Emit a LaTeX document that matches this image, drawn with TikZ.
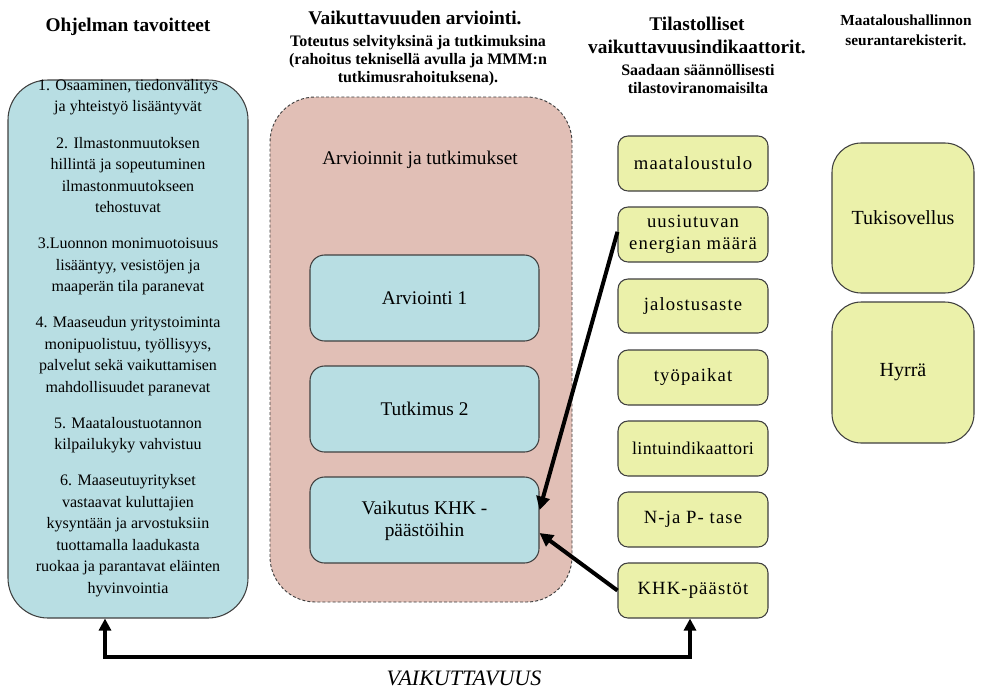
\documentclass[tikz,border=0pt]{standalone}
\usepackage{fontspec}
\setmainfont{LiberationSerif}[Extension=.ttf, UprightFont=*-Regular, BoldFont=*-Bold, ItalicFont=*-Italic, BoldItalicFont=*-BoldItalic]
\newfontfamily\spacedserif{LiberationSerif}[Extension=.ttf, UprightFont=*-Regular, BoldFont=*-Bold, LetterSpace=6]
\newfontfamily\lightspaced{LiberationSerif}[Extension=.ttf, UprightFont=*-Regular, BoldFont=*-Bold, LetterSpace=2]
\usetikzlibrary{arrows.meta,fit,calc}
\definecolor{goalblue}{RGB}{184,222,227}
\definecolor{evalpink}{RGB}{225,191,182}
\definecolor{indyellow}{RGB}{235,241,170}
\definecolor{edgegrey}{RGB}{64,64,64}
\tikzset{
  titlefont/.style={font=\fontsize{14.5}{17.25}\selectfont\bfseries, align=center, inner sep=0pt},
  subfont/.style={font=\fontsize{12}{13.5}\selectfont\bfseries, align=center, inner sep=0pt},
  goalbox/.style={draw=edgegrey, line width=0.8pt, fill=goalblue, rounded corners=30pt, inner sep=0pt},
  evalbox/.style={draw=edgegrey, line width=0.7pt, dash pattern=on 2.2pt off 1.6pt, fill=evalpink, rounded corners=34pt, inner sep=0pt},
  studybox/.style={draw=edgegrey, line width=0.8pt, fill=goalblue, rounded corners=11pt, inner sep=0pt},
  studytext/.style={font=\fontsize{14.5}{16.5}\selectfont, align=center, inner sep=0pt},
  indbox/.style={draw=edgegrey, line width=0.8pt, fill=indyellow, rounded corners=7.5pt, inner sep=0pt},
  indtext/.style={font=\spacedserif\fontsize{14}{16.5}\selectfont, align=center, inner sep=0pt},
  regbox/.style={draw=edgegrey, line width=0.8pt, fill=indyellow, rounded corners=22pt, inner sep=0pt},
  regtext/.style={font=\fontsize{15}{18}\selectfont, inner sep=0pt},
  bigarrow/.style={line width=3pt, -{Triangle[length=10pt,width=10pt]}},
  bracketarrow/.style={line width=3.3pt, {Triangle[length=9pt,width=9pt]}-{Triangle[length=9pt,width=9pt]}}
}
\begin{document}
\begin{tikzpicture}[x=0.75pt,y=-0.75pt]
\useasboundingbox (0,0) rectangle (981,689);
\fill[white] (0,0) rectangle (981,689);

% column titles
\node[titlefont] (t1) at (128,27) {Ohjelman tavoitteet};
\node[titlefont] (t2) at (415,18) {Vaikuttavuuden arviointi.};
\node[subfont] (t2s) at (418,61) {Toteutus selvityksinä ja tutkimuksina\\(rahoitus teknisellä avulla ja MMM:n\\tutkimusrahoituksena).};
\node[titlefont] (t3) at (697,35.5) {Tilastolliset\\vaikuttavuusindikaattorit.};
\node[subfont] (t3s) at (698,79) {Saadaan säännöllisesti\\tilastoviranomaisilta};
\node[font=\fontsize{11.5}{15}\selectfont\bfseries, align=center, inner sep=0pt] (t4) at (906,30) {Maataloushallinnon\\seurantarekisterit.};

% left goals box
\node[goalbox, fit={(8,80) (248,618)}] (L) {};
\node[font=\fontsize{12}{16.1}\selectfont, align=center, inner sep=0pt] (Ltext) at (128,338)
 {1. Osaaminen, tiedonvälitys\\ja yhteistyö lisääntyvät\\[11pt]
  2. Ilmastonmuutoksen\\hillintä ja sopeutuminen\\ilmastonmuutokseen\\tehostuvat\\[11pt]
  3.Luonnon monimuotoisuus\\lisääntyy, vesistöjen ja\\maaperän tila paranevat\\[11pt]
  4. Maaseudun yritystoiminta\\monipuolistuu, työllisyys,\\palvelut sekä vaikuttamisen\\mahdollisuudet paranevat\\[11pt]
  5. Maataloustuotannon\\kilpailukyky vahvistuu\\[11pt]
  6. Maaseutuyritykset\\vastaavat kuluttajien\\kysyntään ja arvostuksiin\\tuottamalla laadukasta\\ruokaa ja parantavat eläinten\\hyvinvointia};

% middle evaluation box
\node[evalbox, fit={(270,97) (572,602)}] (P) {};
\node[studytext] (Ptitle) at (420,160) {Arvioinnit ja tutkimukset};
\node[studybox, fit={(310,255) (539,341)}] (A1) {};
\node[studytext] (A1t) at (A1.center) {Arviointi 1};
\node[studybox, fit={(310,366) (539,452)}] (T2) {};
\node[studytext] (T2t) at (T2.center) {Tutkimus 2};
\node[studybox, fit={(310,477) (539,563)}] (V) {};
\node[studytext] (Vt) at ([yshift=-1pt]V.center) {Vaikutus KHK -\\päästöihin};

% indicator boxes
\node[indbox, fit={(618,136) (768,191)}] (I1) {};
\node[indtext] (I1t) at (I1.center) {maataloustulo};
\node[indbox, fit={(618,207) (768,262)}] (I2) {};
\node[indtext] (I2t) at (I2.center) {uusiutuvan\\energian määrä};
\node[indbox, fit={(618,279) (768,333)}] (I3) {};
\node[indtext] (I3t) at (I3.center) {jalostusaste};
\node[indbox, fit={(618,350) (768,405)}] (I4) {};
\node[indtext] (I4t) at (I4.center) {työpaikat};
\node[indbox, fit={(618,421) (768,476)}] (I5) {};
\node[font=\lightspaced\fontsize{13.5}{16.5}\selectfont, inner sep=0pt] (I5t) at (I5.center) {lintuindikaattori};
\node[indbox, fit={(618,492) (768,547)}] (I6) {};
\node[indtext] (I6t) at (I6.center) {N-ja P- tase};
\node[indbox, fit={(618,563) (768,618)}] (I7) {};
\node[indtext] (I7t) at (I7.center) {KHK-päästöt};

% registers
\node[regbox, fit={(832,143) (974,293)}] (R1) {};
\node[regtext] (R1t) at (R1.center) {Tukisovellus};
\node[regbox, fit={(832,302) (974,443)}] (R2) {};
\node[regtext] (R2t) at (R2.center) {Hyrrä};

% arrows
\draw[bigarrow] ([yshift=2pt]I2.west) -- ([yshift=7.5pt]V.east);
\draw[bigarrow] (I7.west) -- ([yshift=-9.75pt]V.east);
\coordinate (b1) at (105,657);
\coordinate (b2) at (690,657);
\draw[bracketarrow] (L.south -| b1) -- (b1) -- (b2) -- (I7.south -| b2);
\node[font=\fontsize{16.5}{18}\selectfont\itshape, inner sep=0pt] (vk) at (464,678) {VAIKUTTAVUUS};
\end{tikzpicture}
\end{document}
